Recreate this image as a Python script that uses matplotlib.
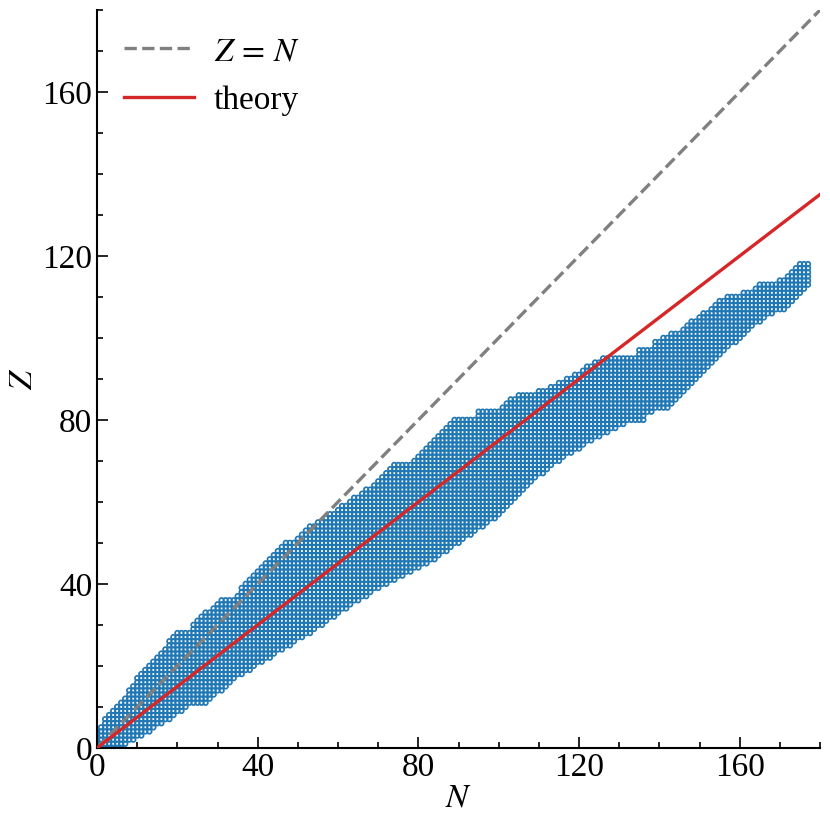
import matplotlib
matplotlib.use("Agg")
import matplotlib.pyplot as plt
import numpy as np

#------#
# Data #
#------#

# lowest and highest Z present for each neutron number N = 0 .. 177
z_low = [0, 0, 0, 0, 0, 0, 0, 1, 2, 2,
         3, 3, 4, 4, 5, 6, 6, 7, 7, 8,
         9, 9, 10, 11, 11, 11, 11, 11, 12, 13,
         14, 14, 15, 16, 17, 18, 18, 19, 19, 20,
         21, 21, 22, 22, 23, 24, 24, 25, 25, 26,
         27, 27, 28, 28, 29, 30, 30, 31, 32, 32,
         33, 34, 34, 35, 36, 36, 37, 37, 38, 39,
         39, 40, 40, 41, 41, 42, 42, 43, 43, 44,
         44, 45, 45, 46, 46, 47, 48, 48, 49, 50,
         50, 51, 52, 52, 53, 54, 54, 55, 56, 56,
         57, 58, 59, 60, 61, 62, 63, 64, 65, 66,
         67, 67, 68, 69, 70, 70, 71, 72, 72, 73,
         73, 74, 75, 75, 76, 76, 77, 77, 78, 78,
         79, 79, 80, 80, 80, 80, 80, 82, 82, 83,
         83, 83, 83, 84, 85, 86, 87, 88, 89, 90,
         91, 92, 93, 94, 95, 96, 97, 98, 99, 99,
         100, 101, 102, 103, 104, 104, 105, 106, 106, 107,
         107, 107, 108, 109, 110, 111, 112, 113]

z_high = [4, 5, 7, 8, 9, 10, 11, 12, 14, 15,
          17, 18, 19, 20, 21, 22, 23, 24, 26, 27,
          28, 28, 28, 28, 30, 31, 32, 33, 33, 34,
          35, 36, 36, 36, 36, 37, 39, 40, 41, 42,
          43, 44, 45, 46, 47, 48, 49, 50, 50, 50,
          51, 52, 53, 54, 54, 55, 55, 56, 57, 57,
          58, 59, 59, 60, 61, 61, 62, 63, 63, 64,
          65, 66, 67, 68, 69, 69, 69, 69, 69, 70,
          71, 72, 73, 74, 75, 76, 77, 78, 79, 80,
          80, 80, 80, 80, 80, 82, 82, 82, 82, 82,
          82, 83, 84, 85, 85, 86, 86, 86, 86, 86,
          87, 87, 87, 88, 88, 89, 89, 90, 90, 91,
          91, 92, 93, 93, 94, 94, 95, 95, 95, 95,
          95, 95, 95, 95, 95, 97, 97, 97, 97, 99,
          99, 100, 100, 101, 101, 101, 102, 103, 104, 104,
          105, 106, 106, 107, 108, 109, 109, 110, 110, 110,
          110, 111, 111, 111, 112, 113, 113, 113, 113, 113,
          114, 114, 115, 116, 117, 118, 118, 118]

# theory line end points and the Z = N reference
theory_N = [0, 180]
theory_Z = [0, 135]
diag = [0, 180]

N_pts = []
Z_pts = []
for n in range(len(z_low)):
    for z in range(z_low[n], z_high[n] + 1):
        N_pts.append(n)
        Z_pts.append(z)

#------#
# Plot #
#------#

plt.rcParams['font.family'] = ['Liberation Serif', 'DejaVu Serif']
plt.rcParams['mathtext.fontset'] = 'stix'

fig = plt.figure(figsize=(8.3, 8.3), dpi=100)
ax = fig.add_axes([0.117, 0.099, 0.871, 0.889])

# open circles, one per (N, Z)
ax.scatter(N_pts, Z_pts, s=11, marker='o', facecolors='none',
           edgecolors='#1f77b4', linewidths=1.25, zorder=1)
ax.plot(diag, diag, '--', color='grey', lw=2.4, label=r'$Z\,=\,N$', zorder=2)
ax.plot(theory_N, theory_Z, color='#d62728', lw=2.4, label='theory', zorder=3)

ax.set_xlim(0, 180)
ax.set_ylim(0, 180)
ax.set_xticks([0, 40, 80, 120, 160])
ax.set_yticks([0, 40, 80, 120, 160])
ax.set_xticks(np.arange(0, 181, 10), minor=True)
ax.set_yticks(np.arange(0, 181, 10), minor=True)
ax.tick_params(which='both', direction='in', labelsize=24, width=1.2)
ax.tick_params(which='major', length=8)
ax.tick_params(which='minor', length=4)
ax.spines['top'].set_visible(False)
ax.spines['right'].set_visible(False)
for s in ['left', 'bottom']:
    ax.spines[s].set_linewidth(1.5)

ax.set_xlabel('$N$', fontsize=24, labelpad=0)
ax.set_ylabel('$Z$', fontsize=24, labelpad=2)

ax.legend(loc='upper left', frameon=False, fontsize=24, handlelength=2.1,
          handletextpad=0.6, labelspacing=0.55, borderaxespad=0.4)

fig.savefig('out.png', dpi=100)
